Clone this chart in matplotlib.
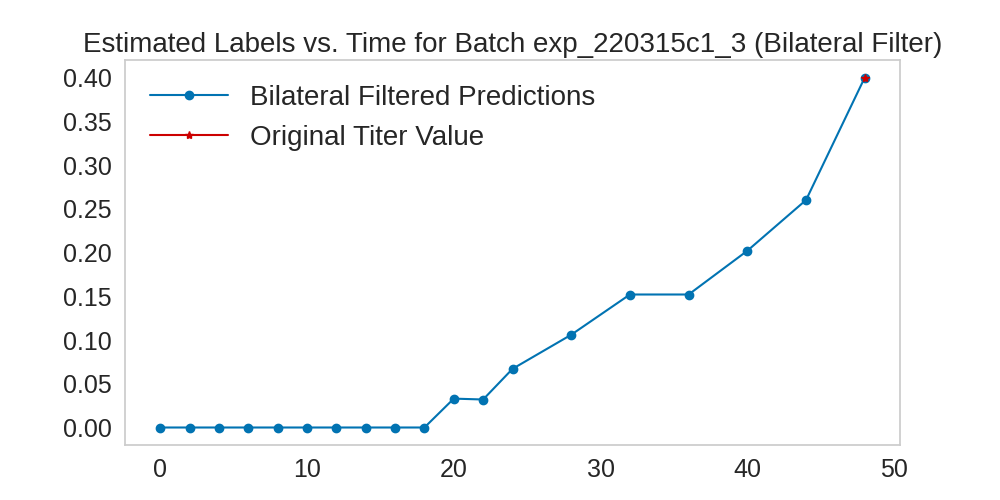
import matplotlib
matplotlib.use("Agg")
import matplotlib.pyplot as plt
import seaborn as sns

sns.set_theme(style="whitegrid", palette="colorblind")
plt.rcParams['font.family'] = ['Arial', 'Liberation Sans', 'DejaVu Sans']

times = [0, 2, 4, 6, 8, 10, 12, 14, 16, 18, 20, 22, 24, 28, 32, 36, 40, 44, 48]
preds = [0, 0, 0, 0, 0, 0, 0, 0, 0, 0, 0.033, 0.032, 0.067, 0.106, 0.152, 0.152, 0.202, 0.260, 0.400]
titer_t = [48]
titer_v = [0.400]

fig, ax = plt.subplots(figsize=(10, 5), dpi=100)
ax.plot(times, preds, marker='o', markersize=6, color='#0173b2', label='Bilateral Filtered Predictions')
ax.plot(titer_t, titer_v, marker='*', markersize=6, color='#cc0000', label='Original Titer Value')
ax.grid(False)
for s in ax.spines.values():
    s.set_color('#cccccc')
ax.tick_params(labelsize=18)
ax.set_title('Estimated Labels vs. Time for Batch exp_220315c1_3 (Bilateral Filter)', fontsize=20)
ax.set_xticks([0, 10, 20, 30, 40, 50])
ax.set_yticks([0.0, 0.05, 0.10, 0.15, 0.20, 0.25, 0.30, 0.35, 0.40])
ax.set_yticklabels([f"{v:.2f}" for v in [0.0, 0.05, 0.10, 0.15, 0.20, 0.25, 0.30, 0.35, 0.40]])
ax.legend(fontsize=20, frameon=False, loc='upper left', handlelength=2.8)
fig.savefig('out.png')
